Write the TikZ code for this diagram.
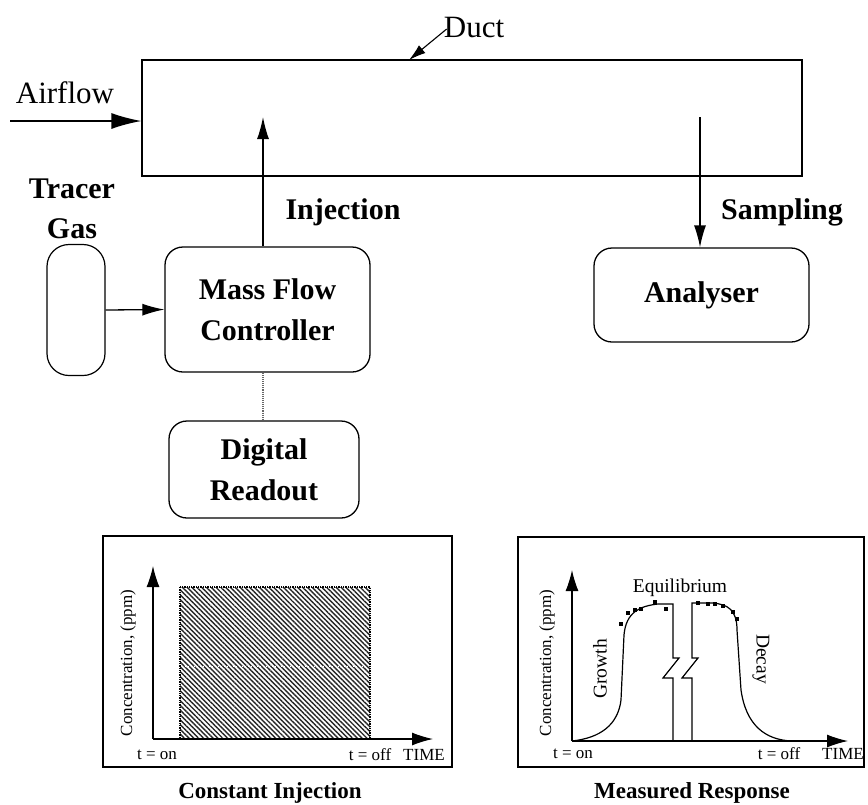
\documentclass[tikz,border=0pt]{standalone}
\usepackage{fontspec}
\setmainfont{Liberation Serif}
\usetikzlibrary{arrows.meta,patterns.meta}
\begin{document}
\begin{tikzpicture}[x=1pt,y=-1pt,
  box/.style={draw, line width=1.3pt, rounded corners=18pt, inner sep=0pt, align=center,
              font=\bfseries\fontsize{30}{41}\selectfont},
  flow/.style={line width=1.3pt, -{Latex[length=22pt,width=12pt]}},
  bigflow/.style={line width=1.6pt, -{Latex[length=30pt,width=16pt]}},
  axisline/.style={line width=1.2pt, -{Latex[length=21pt,width=13pt]}},
  lbl/.style={font=\fontsize{31}{36}\selectfont, inner sep=0pt},
  blbl/.style={font=\bfseries\fontsize{30}{38}\selectfont, inner sep=0pt, align=center},
  tiny/.style={font=\fontsize{17}{20}\selectfont, inner sep=0pt},
  mid/.style={font=\fontsize{19.5}{23}\selectfont, inner sep=0pt},
  title/.style={font=\bfseries\fontsize{23}{28}\selectfont, inner sep=0pt},
  panel/.style={draw, line width=1.5pt, inner sep=0pt},
  curve/.style={line width=1.2pt, line join=miter}
]
\useasboundingbox (0,0) rectangle (868,804);

% ---- duct and air inlet ----
\node[draw, line width=1.1pt, minimum width=660pt, minimum height=116pt, inner sep=0pt] (duct) at (472,118) {};
\coordinate (airin) at (10,121);
\draw[bigflow] (airin) -- (airin -| duct.west);
\node[lbl] (airlbl) at (65,93) {Airflow};
\node[lbl] (ductlbl) at (474,27) {Duct};
\coordinate (ductpt) at (409,60);
\draw[line width=1.1pt, -{Latex[length=17pt,width=10pt]}] ([shift={(3,2)}]ductlbl.west) -- (ductpt);

% ---- tracer gas supply and controller ----
\node[blbl] (tracerlbl) at (72,209) {Tracer\\[2pt]Gas};
\node[draw, line width=1.2pt, rounded corners=22pt, minimum width=58pt, minimum height=131pt, inner sep=0pt] (tank) at (76,310) {};
\node[box, minimum width=205pt, minimum height=125pt] (mfc) at (267.5,309.5) {Mass Flow\\Controller};
\node[box, minimum width=190pt, minimum height=97pt] (dig) at (264,469.5) {Digital\\Readout};
\node[box, minimum width=215pt, minimum height=94pt] (ana) at (701.5,295) {Analyser};

\draw[flow] (tank.east) -- (mfc.west);
\coordinate (injtop) at (263,117);
\draw[flow] (injtop |- mfc.north) -- (injtop);
\draw[line width=1.1pt, densely dotted, black!60] (injtop |- mfc.south) -- (injtop |- dig.north);
\node[blbl] (injlbl) at (343,212) {Injection};
\coordinate (samptop) at (700,117);
\draw[flow] (samptop) -- (samptop |- ana.north);
\node[blbl] (samplbl) at (782,212) {Sampling};

% ---- constant injection panel ----
\node[panel, minimum width=349pt, minimum height=231pt] (panelA) at (277.5,651.5) {};
\coordinate (oA) at (153,739);
\coordinate (yA) at (153,566);
\coordinate (xA) at (433,739);
\fill[pattern={Lines[angle=-45,distance=3.4pt,line width=1.4pt]}, pattern color=black!85] (180,587) rectangle (370,739);
\draw[line width=1.3pt, densely dotted] (180,587) rectangle (370,739);
\draw[white, line width=1pt, dotted] (182,666) -- (368,666);
\draw[axisline] (oA) -- (yA);
\draw[axisline] (oA) -- (xA);
\node[tiny, rotate=90] (concA) at (128,663) {Concentration, (ppm)};
\node[tiny] (onA) at (157,755) {t = on};
\node[tiny] (offA) at (370,755) {t = off};
\node[tiny] (timeA) at (424,755) {TIME};
\node[title] (titleA) at (270,793) {Constant Injection};

% ---- measured response panel ----
\node[panel, minimum width=346pt, minimum height=230pt] (panelB) at (691,652) {};
\coordinate (oB) at (572,741);
\coordinate (yB) at (572,570);
\coordinate (xB) at (848,741);
\draw[axisline] (oB) -- (yB);
\draw[axisline] (oB) -- (xB);
% growth branch with break
\draw[curve] (oB) .. controls (600,738) and (618,725) .. (621,700)
  -- (624,635) .. controls (626,612) and (640,606) .. (658,604)
  -- (673,604) -- (673,658) -- (679,658) -- (663,678) -- (673,678) -- (673,741);
% decay branch with break
\draw[curve] (692,741) -- (692,678) -- (682,678) -- (698,658) -- (692,658)
  -- (692,603) -- (712,603) .. controls (728,604) and (737,610) .. (737,630)
  -- (741,690) .. controls (746,725) and (765,740) .. (792,741);
\foreach \px/\py in {621/624, 628/613, 635/610, 641/609, 655/602, 666/609,
                     698/603, 708/604, 715/604, 723/606, 733/612, 737/619}
  \fill (\px-2.4,\py-2.4) rectangle (\px+2.4,\py+2.4);
\node[mid] (eqlbl) at (680,588) {Equilibrium};
\node[mid, rotate=90] (grlbl) at (600,669) {Growth};
\node[mid, rotate=-90] (dclbl) at (761,659) {Decay};
\node[tiny, rotate=90] (concB) at (547,663) {Concentration, (ppm)};
\node[tiny] (onB) at (573,754) {t = on};
\node[tiny] (offB) at (779,754) {t = off};
\node[tiny] (timeB) at (843,754) {TIME};
\node[title] (titleB) at (692,793) {Measured Response};
\end{tikzpicture}
\end{document}
